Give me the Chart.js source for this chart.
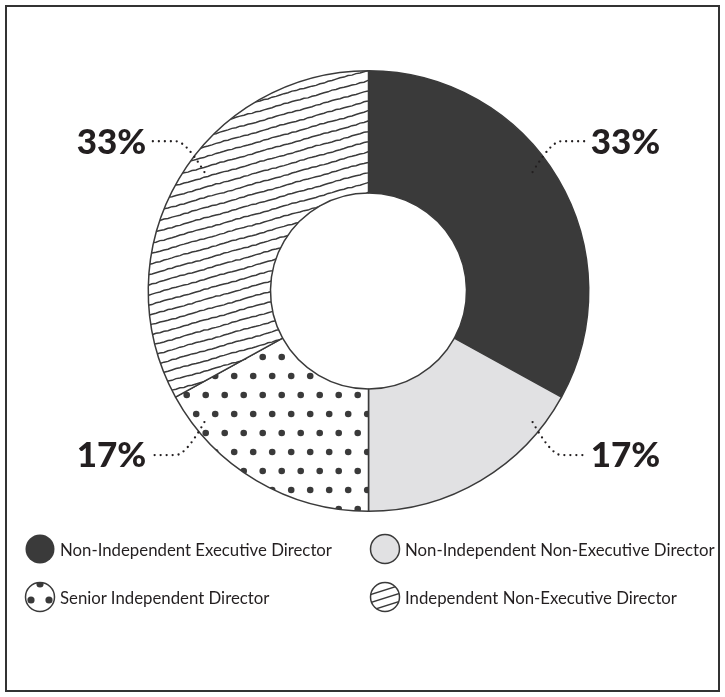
<!DOCTYPE html>
<html>
<head>
<meta charset="utf-8">
<title>Board Composition</title>
<script src="https://cdn.jsdelivr.net/npm/chart.js@4.4.1/dist/chart.umd.min.js"></script>
<style>
    html, body { margin: 0; padding: 0; background: #fff; }
    #wrap { position: relative; width: 725px; height: 697px; overflow: hidden; }
    #frame {
        position: absolute; left: 5px; top: 5px; width: 715px; height: 687px;
        border: 2px solid #333; box-sizing: border-box; pointer-events: none;
    }
    #board { position: absolute; left: 0; top: 0; }
    .legend-item {
        position: absolute; display: flex; align-items: center; height: 32px;
        font-family: Lato, "Noto Sans", sans-serif; font-size: 16.8px; color: #231f20;
        white-space: nowrap;
    }
    .legend-item canvas { margin-right: 4px; }
</style>
</head>
<body>
<div id="wrap">
    <canvas id="board" width="725" height="697"></canvas>
    <div id="legend"></div>
    <div id="frame"></div>
</div>
<script>
// Board composition by director type
const categories = [
    'Non-Independent Executive Director',
    'Non-Independent Non-Executive Director',
    'Senior Independent Director',
    'Independent Non-Executive Director'
];
const shares = [33, 17, 17, 33];
const shareLabels = ['33%', '17%', '17%', '33%'];

const INK = '#3a3a3a';
const LIGHT = '#e1e1e3';
const W = 725, H = 697;

// slightly uneven diagonal hatching, drawn across the whole canvas so it lines up with the slice
function drawHatch(ctx, w, h, gap, slope) {
    ctx.strokeStyle = INK;
    ctx.lineWidth = 1.5;
    const span = w * slope;
    for (let k = 0, b = -gap; b < h + span + gap; k++, b += gap) {
        ctx.beginPath();
        for (let x = -4; x <= w + 4; x += 4) {
            const wob = 0.3 * Math.sin(x * 0.9 + k * 1.7) + 0.25 * Math.sin(x * 0.13 + k * 0.6);
            const y = b - x * slope + wob;
            if (x === -4) ctx.moveTo(x, y); else ctx.lineTo(x, y);
        }
        ctx.stroke();
    }
}

// staggered dot grid
function drawDots(ctx, w, h, step, r, x0, y0) {
    ctx.fillStyle = INK;
    let row = 0;
    for (let y = y0 - step * 40; y < h + step; y += step, row++) {
        const off = (row % 2) ? step / 2 : 0;
        for (let x = x0 - step * 40 + off; x < w + step; x += step) {
            if (y < -step || x < -step) continue;
            ctx.beginPath();
            ctx.arc(x, y, r, 0, Math.PI * 2);
            ctx.fill();
        }
    }
}

function makePattern(drawFn) {
    const c = document.createElement('canvas');
    c.width = W; c.height = H;
    const g = c.getContext('2d');
    g.fillStyle = '#fff';
    g.fillRect(0, 0, W, H);
    drawFn(g);
    return document.getElementById('board').getContext('2d').createPattern(c, 'no-repeat');
}

const hatchFill = makePattern(g => drawHatch(g, W, H, 10.2, 0.28));
const dotFill = makePattern(g => drawDots(g, W, H, 19, 3.3, 186.7, 395));

// percentage call-outs with dotted leader lines
const calloutPlugin = {
    id: 'callouts',
    afterDatasetsDraw(chart) {
        const ctx = chart.ctx;
        const arcs = chart.getDatasetMeta(0).data;
        arcs.forEach((arc, i) => {
            const { x, y, startAngle, endAngle, outerRadius: R } = arc.getProps(['x', 'y', 'startAngle', 'endAngle', 'outerRadius'], true);
            const mid = (startAngle + endAngle) / 2;
            const side = Math.cos(mid) >= 0 ? 1 : -1;
            const up = Math.sin(mid) < 0;
            const s = { x: x + side * 0.745 * R, y: y + (up ? -0.54 : 0.595) * R };
            const e = { x: x + side * 0.875 * R, y: y + (up ? -0.68 : 0.745) * R };
            const end = x + side * 0.98 * R;

            ctx.save();
            ctx.strokeStyle = '#231f20';
            ctx.lineWidth = 2.3;
            ctx.lineCap = 'round';
            ctx.setLineDash([0, 6]);
            ctx.beginPath();
            ctx.moveTo(s.x, s.y);
            ctx.quadraticCurveTo(e.x - side * 10, e.y, e.x, e.y);
            ctx.lineTo(end, e.y);
            ctx.stroke();
            ctx.setLineDash([]);

            ctx.fillStyle = '#231f20';
            ctx.font = '900 35px Lato, "Noto Sans", sans-serif';
            ctx.textBaseline = 'middle';
            ctx.textAlign = side > 0 ? 'left' : 'right';
            ctx.fillText(shareLabels[i], x + side * (R + 2), e.y + 1);
            ctx.restore();
        });
    }
};

const ctx = document.getElementById('board').getContext('2d');
const chart = new Chart(ctx, {
    type: 'doughnut',
    data: {
        labels: categories,
        datasets: [{
            data: shares,
            backgroundColor: [INK, LIGHT, dotFill, hatchFill],
            borderColor: INK,
            borderWidth: 1.5,
            hoverOffset: 0
        }]
    },
    options: {
        responsive: false,
        animation: false,
        cutout: '44.5%',
        layout: { padding: { left: 147, right: 135, top: 70, bottom: 185 } },
        plugins: {
            legend: { display: false },
            tooltip: { enabled: false }
        }
    },
    plugins: [calloutPlugin]
});

// legend swatches
function drawSwatch(c, i) {
    const g = c.getContext('2d');
    const cx = 16, cy = 16, r = 14.5;
    g.beginPath();
    g.arc(cx, cy, r, 0, Math.PI * 2);
    if (i === 0) {
        g.fillStyle = INK;
        g.fill();
        return;
    }
    g.fillStyle = i === 1 ? LIGHT : '#fff';
    g.fill();
    g.save();
    g.clip();
    if (i === 2) {
        g.fillStyle = INK;
        [[0, -13], [-9, 3], [9, 3]].forEach(([dx, dy]) => {
            g.beginPath();
            g.arc(cx + dx, cy + dy, 3.6, 0, Math.PI * 2);
            g.fill();
        });
    }
    if (i === 3) {
        g.strokeStyle = INK;
        g.lineWidth = 1.5;
        [-7, 1, 9].forEach(b => {
            g.beginPath();
            g.moveTo(0, cy + b + 5);
            g.lineTo(32, cy + b - 5);
            g.stroke();
        });
    }
    g.restore();
    g.beginPath();
    g.arc(cx, cy, r, 0, Math.PI * 2);
    g.strokeStyle = INK;
    g.lineWidth = 1.5;
    g.stroke();
}

const legendPos = [[24, 533], [369, 533], [24, 581], [369, 581]];
const legendEl = document.getElementById('legend');
categories.forEach((name, i) => {
    const item = document.createElement('div');
    item.className = 'legend-item';
    item.style.left = legendPos[i][0] + 'px';
    item.style.top = legendPos[i][1] + 'px';
    const sw = document.createElement('canvas');
    sw.width = 32; sw.height = 32;
    drawSwatch(sw, i);
    item.appendChild(sw);
    const label = document.createElement('span');
    label.textContent = name;
    item.appendChild(label);
    legendEl.appendChild(item);
});
</script>
</body>
</html>
